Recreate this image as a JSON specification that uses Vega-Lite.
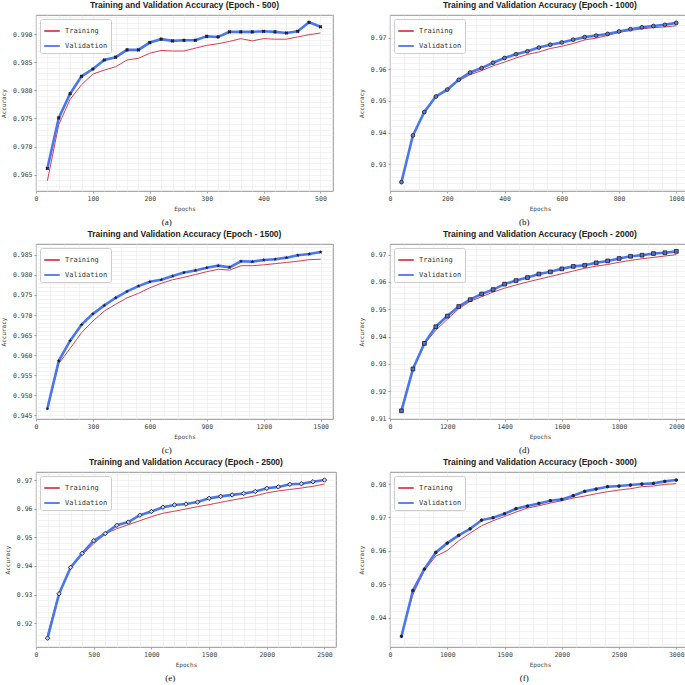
{
  "$schema": "https://vega.github.io/schema/vega-lite/v6.json",
  "padding": 0,
  "background": "white",
  "datasets": {
    "acc": [
      {"panel": "a", "epoch": 20, "Training": 0.9639, "Validation": 0.9661},
      {"panel": "a", "epoch": 40, "Training": 0.9739, "Validation": 0.9751},
      {"panel": "a", "epoch": 60, "Training": 0.9784, "Validation": 0.9794},
      {"panel": "a", "epoch": 80, "Training": 0.9810, "Validation": 0.9825},
      {"panel": "a", "epoch": 100, "Training": 0.9829, "Validation": 0.9838},
      {"panel": "a", "epoch": 120, "Training": 0.9836, "Validation": 0.9854},
      {"panel": "a", "epoch": 140, "Training": 0.9842, "Validation": 0.9859},
      {"panel": "a", "epoch": 160, "Training": 0.9854, "Validation": 0.9872},
      {"panel": "a", "epoch": 180, "Training": 0.9857, "Validation": 0.9872},
      {"panel": "a", "epoch": 200, "Training": 0.9866, "Validation": 0.9885},
      {"panel": "a", "epoch": 220, "Training": 0.9871, "Validation": 0.9891},
      {"panel": "a", "epoch": 240, "Training": 0.9870, "Validation": 0.9888},
      {"panel": "a", "epoch": 260, "Training": 0.9870, "Validation": 0.9889},
      {"panel": "a", "epoch": 280, "Training": 0.9875, "Validation": 0.9889},
      {"panel": "a", "epoch": 300, "Training": 0.9880, "Validation": 0.9896},
      {"panel": "a", "epoch": 320, "Training": 0.9883, "Validation": 0.9895},
      {"panel": "a", "epoch": 340, "Training": 0.9887, "Validation": 0.9904},
      {"panel": "a", "epoch": 360, "Training": 0.9892, "Validation": 0.9904},
      {"panel": "a", "epoch": 380, "Training": 0.9888, "Validation": 0.9904},
      {"panel": "a", "epoch": 400, "Training": 0.9892, "Validation": 0.9905},
      {"panel": "a", "epoch": 420, "Training": 0.9891, "Validation": 0.9904},
      {"panel": "a", "epoch": 440, "Training": 0.9891, "Validation": 0.9902},
      {"panel": "a", "epoch": 460, "Training": 0.9895, "Validation": 0.9905},
      {"panel": "a", "epoch": 480, "Training": 0.9899, "Validation": 0.9921},
      {"panel": "a", "epoch": 500, "Training": 0.9902, "Validation": 0.9913},
      {"panel": "b", "epoch": 40, "Training": 0.9245, "Validation": 0.9243},
      {"panel": "b", "epoch": 80, "Training": 0.9391, "Validation": 0.9391},
      {"panel": "b", "epoch": 120, "Training": 0.9462, "Validation": 0.9465},
      {"panel": "b", "epoch": 160, "Training": 0.9512, "Validation": 0.9514},
      {"panel": "b", "epoch": 200, "Training": 0.9536, "Validation": 0.9536},
      {"panel": "b", "epoch": 240, "Training": 0.9564, "Validation": 0.9567},
      {"panel": "b", "epoch": 280, "Training": 0.9583, "Validation": 0.9590},
      {"panel": "b", "epoch": 320, "Training": 0.9596, "Validation": 0.9604},
      {"panel": "b", "epoch": 360, "Training": 0.9611, "Validation": 0.9621},
      {"panel": "b", "epoch": 400, "Training": 0.9623, "Validation": 0.9636},
      {"panel": "b", "epoch": 440, "Training": 0.9636, "Validation": 0.9648},
      {"panel": "b", "epoch": 480, "Training": 0.9647, "Validation": 0.9657},
      {"panel": "b", "epoch": 520, "Training": 0.9655, "Validation": 0.9669},
      {"panel": "b", "epoch": 560, "Training": 0.9666, "Validation": 0.9678},
      {"panel": "b", "epoch": 600, "Training": 0.9673, "Validation": 0.9685},
      {"panel": "b", "epoch": 640, "Training": 0.9682, "Validation": 0.9694},
      {"panel": "b", "epoch": 680, "Training": 0.9693, "Validation": 0.9702},
      {"panel": "b", "epoch": 720, "Training": 0.9699, "Validation": 0.9707},
      {"panel": "b", "epoch": 760, "Training": 0.9707, "Validation": 0.9712},
      {"panel": "b", "epoch": 800, "Training": 0.9717, "Validation": 0.9720},
      {"panel": "b", "epoch": 840, "Training": 0.9723, "Validation": 0.9727},
      {"panel": "b", "epoch": 880, "Training": 0.9728, "Validation": 0.9733},
      {"panel": "b", "epoch": 920, "Training": 0.9732, "Validation": 0.9737},
      {"panel": "b", "epoch": 960, "Training": 0.9734, "Validation": 0.9741},
      {"panel": "b", "epoch": 1000, "Training": 0.9738, "Validation": 0.9747},
      {"panel": "c", "epoch": 60, "Training": 0.9463, "Validation": 0.9467},
      {"panel": "c", "epoch": 120, "Training": 0.9579, "Validation": 0.9586},
      {"panel": "c", "epoch": 180, "Training": 0.9617, "Validation": 0.9636},
      {"panel": "c", "epoch": 240, "Training": 0.9656, "Validation": 0.9676},
      {"panel": "c", "epoch": 300, "Training": 0.9685, "Validation": 0.9703},
      {"panel": "c", "epoch": 360, "Training": 0.9710, "Validation": 0.9724},
      {"panel": "c", "epoch": 420, "Training": 0.9727, "Validation": 0.9743},
      {"panel": "c", "epoch": 480, "Training": 0.9743, "Validation": 0.9759},
      {"panel": "c", "epoch": 540, "Training": 0.9754, "Validation": 0.9772},
      {"panel": "c", "epoch": 600, "Training": 0.9768, "Validation": 0.9783},
      {"panel": "c", "epoch": 660, "Training": 0.9779, "Validation": 0.9788},
      {"panel": "c", "epoch": 720, "Training": 0.9788, "Validation": 0.9797},
      {"panel": "c", "epoch": 780, "Training": 0.9794, "Validation": 0.9806},
      {"panel": "c", "epoch": 840, "Training": 0.9801, "Validation": 0.9811},
      {"panel": "c", "epoch": 900, "Training": 0.9808, "Validation": 0.9818},
      {"panel": "c", "epoch": 960, "Training": 0.9814, "Validation": 0.9823},
      {"panel": "c", "epoch": 1020, "Training": 0.9812, "Validation": 0.9819},
      {"panel": "c", "epoch": 1080, "Training": 0.9823, "Validation": 0.9834},
      {"panel": "c", "epoch": 1140, "Training": 0.9823, "Validation": 0.9833},
      {"panel": "c", "epoch": 1200, "Training": 0.9825, "Validation": 0.9837},
      {"panel": "c", "epoch": 1260, "Training": 0.9828, "Validation": 0.9839},
      {"panel": "c", "epoch": 1320, "Training": 0.9831, "Validation": 0.9843},
      {"panel": "c", "epoch": 1380, "Training": 0.9834, "Validation": 0.9849},
      {"panel": "c", "epoch": 1440, "Training": 0.9838, "Validation": 0.9852},
      {"panel": "c", "epoch": 1500, "Training": 0.9839, "Validation": 0.9857},
      {"panel": "d", "epoch": 80, "Training": 0.9137, "Validation": 0.9128},
      {"panel": "d", "epoch": 160, "Training": 0.9281, "Validation": 0.9281},
      {"panel": "d", "epoch": 240, "Training": 0.9373, "Validation": 0.9375},
      {"panel": "d", "epoch": 320, "Training": 0.9423, "Validation": 0.9436},
      {"panel": "d", "epoch": 400, "Training": 0.9463, "Validation": 0.9475},
      {"panel": "d", "epoch": 480, "Training": 0.9502, "Validation": 0.9510},
      {"panel": "d", "epoch": 560, "Training": 0.9529, "Validation": 0.9535},
      {"panel": "d", "epoch": 640, "Training": 0.9546, "Validation": 0.9556},
      {"panel": "d", "epoch": 720, "Training": 0.9563, "Validation": 0.9572},
      {"panel": "d", "epoch": 800, "Training": 0.9577, "Validation": 0.9592},
      {"panel": "d", "epoch": 880, "Training": 0.9589, "Validation": 0.9605},
      {"panel": "d", "epoch": 960, "Training": 0.9600, "Validation": 0.9616},
      {"panel": "d", "epoch": 1040, "Training": 0.9610, "Validation": 0.9629},
      {"panel": "d", "epoch": 1120, "Training": 0.9620, "Validation": 0.9637},
      {"panel": "d", "epoch": 1200, "Training": 0.9630, "Validation": 0.9648},
      {"panel": "d", "epoch": 1280, "Training": 0.9640, "Validation": 0.9657},
      {"panel": "d", "epoch": 1360, "Training": 0.9650, "Validation": 0.9661},
      {"panel": "d", "epoch": 1440, "Training": 0.9658, "Validation": 0.9670},
      {"panel": "d", "epoch": 1520, "Training": 0.9664, "Validation": 0.9677},
      {"panel": "d", "epoch": 1600, "Training": 0.9672, "Validation": 0.9686},
      {"panel": "d", "epoch": 1680, "Training": 0.9679, "Validation": 0.9694},
      {"panel": "d", "epoch": 1760, "Training": 0.9685, "Validation": 0.9698},
      {"panel": "d", "epoch": 1840, "Training": 0.9690, "Validation": 0.9704},
      {"panel": "d", "epoch": 1920, "Training": 0.9695, "Validation": 0.9707},
      {"panel": "d", "epoch": 2000, "Training": 0.9700, "Validation": 0.9712},
      {"panel": "e", "epoch": 100, "Training": 0.9160, "Validation": 0.9148},
      {"panel": "e", "epoch": 200, "Training": 0.9306, "Validation": 0.9303},
      {"panel": "e", "epoch": 300, "Training": 0.9391, "Validation": 0.9395},
      {"panel": "e", "epoch": 400, "Training": 0.9440, "Validation": 0.9444},
      {"panel": "e", "epoch": 500, "Training": 0.9477, "Validation": 0.9488},
      {"panel": "e", "epoch": 600, "Training": 0.9512, "Validation": 0.9513},
      {"panel": "e", "epoch": 700, "Training": 0.9530, "Validation": 0.9542},
      {"panel": "e", "epoch": 800, "Training": 0.9544, "Validation": 0.9553},
      {"panel": "e", "epoch": 900, "Training": 0.9558, "Validation": 0.9577},
      {"panel": "e", "epoch": 1000, "Training": 0.9572, "Validation": 0.9590},
      {"panel": "e", "epoch": 1100, "Training": 0.9584, "Validation": 0.9605},
      {"panel": "e", "epoch": 1200, "Training": 0.9591, "Validation": 0.9613},
      {"panel": "e", "epoch": 1300, "Training": 0.9599, "Validation": 0.9616},
      {"panel": "e", "epoch": 1400, "Training": 0.9607, "Validation": 0.9623},
      {"panel": "e", "epoch": 1500, "Training": 0.9614, "Validation": 0.9636},
      {"panel": "e", "epoch": 1600, "Training": 0.9622, "Validation": 0.9643},
      {"panel": "e", "epoch": 1700, "Training": 0.9630, "Validation": 0.9648},
      {"panel": "e", "epoch": 1800, "Training": 0.9637, "Validation": 0.9653},
      {"panel": "e", "epoch": 1900, "Training": 0.9645, "Validation": 0.9660},
      {"panel": "e", "epoch": 2000, "Training": 0.9655, "Validation": 0.9671},
      {"panel": "e", "epoch": 2100, "Training": 0.9662, "Validation": 0.9676},
      {"panel": "e", "epoch": 2200, "Training": 0.9667, "Validation": 0.9685},
      {"panel": "e", "epoch": 2300, "Training": 0.9672, "Validation": 0.9687},
      {"panel": "e", "epoch": 2400, "Training": 0.9678, "Validation": 0.9694},
      {"panel": "e", "epoch": 2500, "Training": 0.9686, "Validation": 0.9700},
      {"panel": "f", "epoch": 120, "Training": 0.9349, "Validation": 0.9344},
      {"panel": "f", "epoch": 240, "Training": 0.9469, "Validation": 0.9481},
      {"panel": "f", "epoch": 360, "Training": 0.9541, "Validation": 0.9545},
      {"panel": "f", "epoch": 480, "Training": 0.9584, "Validation": 0.9595},
      {"panel": "f", "epoch": 600, "Training": 0.9601, "Validation": 0.9623},
      {"panel": "f", "epoch": 720, "Training": 0.9630, "Validation": 0.9646},
      {"panel": "f", "epoch": 840, "Training": 0.9653, "Validation": 0.9666},
      {"panel": "f", "epoch": 960, "Training": 0.9675, "Validation": 0.9692},
      {"panel": "f", "epoch": 1080, "Training": 0.9690, "Validation": 0.9699},
      {"panel": "f", "epoch": 1200, "Training": 0.9703, "Validation": 0.9711},
      {"panel": "f", "epoch": 1320, "Training": 0.9716, "Validation": 0.9726},
      {"panel": "f", "epoch": 1440, "Training": 0.9728, "Validation": 0.9734},
      {"panel": "f", "epoch": 1560, "Training": 0.9735, "Validation": 0.9742},
      {"panel": "f", "epoch": 1680, "Training": 0.9743, "Validation": 0.9750},
      {"panel": "f", "epoch": 1800, "Training": 0.9750, "Validation": 0.9754},
      {"panel": "f", "epoch": 1920, "Training": 0.9758, "Validation": 0.9765},
      {"panel": "f", "epoch": 2040, "Training": 0.9764, "Validation": 0.9778},
      {"panel": "f", "epoch": 2160, "Training": 0.9771, "Validation": 0.9785},
      {"panel": "f", "epoch": 2280, "Training": 0.9777, "Validation": 0.9792},
      {"panel": "f", "epoch": 2400, "Training": 0.9782, "Validation": 0.9794},
      {"panel": "f", "epoch": 2520, "Training": 0.9786, "Validation": 0.9797},
      {"panel": "f", "epoch": 2640, "Training": 0.9792, "Validation": 0.9800},
      {"panel": "f", "epoch": 2760, "Training": 0.9794, "Validation": 0.9802},
      {"panel": "f", "epoch": 2880, "Training": 0.9799, "Validation": 0.9808},
      {"panel": "f", "epoch": 3000, "Training": 0.9801, "Validation": 0.9812}
    ]
  },
  "data": {"name": "acc"},
  "columns": 2,
  "spacing": {"row": 2, "column": 20},
  "resolve": {"scale": {"color": "independent"}},
  "concat": [
    {
      "vconcat": [
        {
          "title": "Training and Validation Accuracy (Epoch - 500)",
          "width": 297,
          "height": 176,
          "transform": [
            {"filter": "datum.panel === 'a'"},
            {"fold": ["Training", "Validation"], "as": ["series", "accuracy"]}
          ],
          "layer": [
            {
              "mark": {"type": "line", "opacity": 0},
              "encoding": {
                "x": {"field": "epoch", "type": "quantitative", "scale": {"domain": [0, 522], "nice": false, "zero": false},
                  "axis": {"orient": "top", "title": null, "values": [0, 20, 40, 60, 80, 100, 120, 140, 160, 180, 200, 220, 240, 260, 280, 300, 320, 340, 360, 380, 400, 420, 440, 460, 480, 500, 520]}},
                "y": {"field": "accuracy", "type": "quantitative", "scale": {"domain": [0.9621, 0.9934], "nice": false, "zero": false},
                  "axis": {"orient": "right", "title": null, "values": [0.963, 0.964, 0.965, 0.966, 0.967, 0.968, 0.969, 0.97, 0.971, 0.972, 0.973, 0.974, 0.975, 0.976, 0.977, 0.978, 0.979, 0.98, 0.981, 0.982, 0.983, 0.984, 0.985, 0.986, 0.987, 0.988, 0.989, 0.99, 0.991, 0.992, 0.993]}}
              }
            },
            {
              "mark": {"type": "line"},
              "encoding": {
                "x": {"field": "epoch", "type": "quantitative", "scale": {"domain": [0, 522], "nice": false, "zero": false},
                  "axis": {"orient": "bottom", "title": "Epochs", "values": [0, 100, 200, 300, 400, 500], "format": "d"}},
                "y": {"field": "accuracy", "type": "quantitative", "scale": {"domain": [0.9621, 0.9934], "nice": false, "zero": false},
                  "axis": {"orient": "left", "title": "Accuracy", "values": [0.965, 0.97, 0.975, 0.98, 0.985, 0.99], "format": ".3f"}},
                "color": {"field": "series", "type": "nominal", "scale": {"domain": ["Training", "Validation"], "range": ["#d6404e", "#4a77ee"]}, "legend": {"title": null}},
                "strokeWidth": {"condition": {"test": "datum.series === 'Validation'", "value": 2.6}, "value": 1}
              }
            },
            {
              "transform": [{"filter": "datum.series === 'Validation'"}],
              "mark": {"type": "point", "shape": "cross", "angle": 45, "filled": true, "fill": "#1c1c30", "size": 14, "opacity": 1},
              "encoding": {
                "x": {"field": "epoch", "type": "quantitative", "scale": {"domain": [0, 522], "nice": false, "zero": false}, "axis": null},
                "y": {"field": "accuracy", "type": "quantitative", "scale": {"domain": [0.9621, 0.9934], "nice": false, "zero": false}, "axis": null}
              }
            }
          ],
          "resolve": {"axis": {"x": "independent", "y": "independent"}}
        }
      ],
      "title": {"text": "(a)", "orient": "bottom", "anchor": "middle", "font": "Liberation Serif", "fontSize": 9, "fontWeight": "normal", "color": "#111111", "offset": 6},
      "resolve": {"scale": {"color": "independent"}}
    },
    {
      "vconcat": [
        {
          "title": "Training and Validation Accuracy (Epoch - 1000)",
          "width": 300,
          "height": 176,
          "transform": [
            {"filter": "datum.panel === 'b'"},
            {"fold": ["Training", "Validation"], "as": ["series", "accuracy"]}
          ],
          "layer": [
            {
              "mark": {"type": "line", "opacity": 0},
              "encoding": {
                "x": {"field": "epoch", "type": "quantitative", "scale": {"domain": [0, 1048], "nice": false, "zero": false},
                  "axis": {"orient": "top", "title": null, "values": [0, 50, 100, 150, 200, 250, 300, 350, 400, 450, 500, 550, 600, 650, 700, 750, 800, 850, 900, 950, 1000]}},
                "y": {"field": "accuracy", "type": "quantitative", "scale": {"domain": [0.9215, 0.9772], "nice": false, "zero": false},
                  "axis": {"orient": "right", "title": null, "values": [0.922, 0.924, 0.926, 0.928, 0.93, 0.932, 0.934, 0.936, 0.938, 0.94, 0.942, 0.944, 0.946, 0.948, 0.95, 0.952, 0.954, 0.956, 0.958, 0.96, 0.962, 0.964, 0.966, 0.968, 0.97, 0.972, 0.974, 0.976]}}
              }
            },
            {
              "mark": {"type": "line"},
              "encoding": {
                "x": {"field": "epoch", "type": "quantitative", "scale": {"domain": [0, 1048], "nice": false, "zero": false},
                  "axis": {"orient": "bottom", "title": "Epochs", "values": [0, 200, 400, 600, 800, 1000], "format": "d"}},
                "y": {"field": "accuracy", "type": "quantitative", "scale": {"domain": [0.9215, 0.9772], "nice": false, "zero": false},
                  "axis": {"orient": "left", "title": "Accuracy", "values": [0.93, 0.94, 0.95, 0.96, 0.97], "format": ".2f"}},
                "color": {"field": "series", "type": "nominal", "scale": {"domain": ["Training", "Validation"], "range": ["#d6404e", "#4a77ee"]}, "legend": {"title": null}},
                "strokeWidth": {"condition": {"test": "datum.series === 'Validation'", "value": 2.6}, "value": 1}
              }
            },
            {
              "transform": [{"filter": "datum.series === 'Validation'"}],
              "mark": {"type": "point", "shape": "circle", "filled": true, "fill": "#6a7fb8", "stroke": "#1c1c30", "strokeWidth": 0.8, "size": 14, "opacity": 1},
              "encoding": {
                "x": {"field": "epoch", "type": "quantitative", "scale": {"domain": [0, 1048], "nice": false, "zero": false}, "axis": null},
                "y": {"field": "accuracy", "type": "quantitative", "scale": {"domain": [0.9215, 0.9772], "nice": false, "zero": false}, "axis": null}
              }
            }
          ],
          "resolve": {"axis": {"x": "independent", "y": "independent"}}
        }
      ],
      "title": {"text": "(b)", "orient": "bottom", "anchor": "middle", "font": "Liberation Serif", "fontSize": 9, "fontWeight": "normal", "color": "#111111", "offset": 6},
      "resolve": {"scale": {"color": "independent"}}
    },
    {
      "vconcat": [
        {
          "title": "Training and Validation Accuracy (Epoch - 1500)",
          "width": 297,
          "height": 175,
          "transform": [
            {"filter": "datum.panel === 'c'"},
            {"fold": ["Training", "Validation"], "as": ["series", "accuracy"]}
          ],
          "layer": [
            {
              "mark": {"type": "line", "opacity": 0},
              "encoding": {
                "x": {"field": "epoch", "type": "quantitative", "scale": {"domain": [0, 1565], "nice": false, "zero": false},
                  "axis": {"orient": "top", "title": null, "values": [0, 75, 150, 225, 300, 375, 450, 525, 600, 675, 750, 825, 900, 975, 1050, 1125, 1200, 1275, 1350, 1425, 1500]}},
                "y": {"field": "accuracy", "type": "quantitative", "scale": {"domain": [0.9441, 0.9877], "nice": false, "zero": false},
                  "axis": {"orient": "right", "title": null, "values": [0.945, 0.946, 0.947, 0.948, 0.949, 0.95, 0.951, 0.952, 0.953, 0.954, 0.955, 0.956, 0.957, 0.958, 0.959, 0.96, 0.961, 0.962, 0.963, 0.964, 0.965, 0.966, 0.967, 0.968, 0.969, 0.97, 0.971, 0.972, 0.973, 0.974, 0.975, 0.976, 0.977, 0.978, 0.979, 0.98, 0.981, 0.982, 0.983, 0.984, 0.985, 0.986, 0.987]}}
              }
            },
            {
              "mark": {"type": "line"},
              "encoding": {
                "x": {"field": "epoch", "type": "quantitative", "scale": {"domain": [0, 1565], "nice": false, "zero": false},
                  "axis": {"orient": "bottom", "title": "Epochs", "values": [0, 300, 600, 900, 1200, 1500], "format": "d"}},
                "y": {"field": "accuracy", "type": "quantitative", "scale": {"domain": [0.9441, 0.9877], "nice": false, "zero": false},
                  "axis": {"orient": "left", "title": "Accuracy", "values": [0.945, 0.95, 0.955, 0.96, 0.965, 0.97, 0.975, 0.98, 0.985], "format": ".3f"}},
                "color": {"field": "series", "type": "nominal", "scale": {"domain": ["Training", "Validation"], "range": ["#d6404e", "#4a77ee"]}, "legend": {"title": null}},
                "strokeWidth": {"condition": {"test": "datum.series === 'Validation'", "value": 2.6}, "value": 1}
              }
            },
            {
              "transform": [{"filter": "datum.series === 'Validation'"}],
              "mark": {"type": "point", "shape": "M0,-1L0.235,-0.324L0.951,-0.309L0.38,0.124L0.588,0.809L0,0.4L-0.588,0.809L-0.38,0.124L-0.951,-0.309L-0.235,-0.324Z", "filled": true, "fill": "#1c1c30", "size": 18, "opacity": 1},
              "encoding": {
                "x": {"field": "epoch", "type": "quantitative", "scale": {"domain": [0, 1565], "nice": false, "zero": false}, "axis": null},
                "y": {"field": "accuracy", "type": "quantitative", "scale": {"domain": [0.9441, 0.9877], "nice": false, "zero": false}, "axis": null}
              }
            }
          ],
          "resolve": {"axis": {"x": "independent", "y": "independent"}}
        }
      ],
      "title": {"text": "(c)", "orient": "bottom", "anchor": "middle", "font": "Liberation Serif", "fontSize": 9, "fontWeight": "normal", "color": "#111111", "offset": 6},
      "resolve": {"scale": {"color": "independent"}}
    },
    {
      "vconcat": [
        {
          "title": "Training and Validation Accuracy (Epoch - 2000)",
          "width": 300,
          "height": 175,
          "transform": [
            {"filter": "datum.panel === 'd'"},
            {"fold": ["Training", "Validation"], "as": ["series", "accuracy"]}
          ],
          "layer": [
            {
              "mark": {"type": "line", "opacity": 0},
              "encoding": {
                "x": {"field": "epoch", "type": "quantitative", "scale": {"domain": [0, 2095], "nice": false, "zero": false},
                  "axis": {"orient": "top", "title": null, "values": [0, 100, 200, 300, 400, 500, 600, 700, 800, 900, 1000, 1100, 1200, 1300, 1400, 1500, 1600, 1700, 1800, 1900, 2000]}},
                "y": {"field": "accuracy", "type": "quantitative", "scale": {"domain": [0.9098, 0.9739], "nice": false, "zero": false},
                  "axis": {"orient": "right", "title": null, "values": [0.91, 0.912, 0.914, 0.916, 0.918, 0.92, 0.922, 0.924, 0.926, 0.928, 0.93, 0.932, 0.934, 0.936, 0.938, 0.94, 0.942, 0.944, 0.946, 0.948, 0.95, 0.952, 0.954, 0.956, 0.958, 0.96, 0.962, 0.964, 0.966, 0.968, 0.97, 0.972]}}
              }
            },
            {
              "mark": {"type": "line"},
              "encoding": {
                "x": {"field": "epoch", "type": "quantitative", "scale": {"domain": [0, 2095], "nice": false, "zero": false},
                  "axis": {"orient": "bottom", "title": "Epochs", "values": [0, 400, 800, 1200, 1600, 2000], "format": "d",
                    "labelExpr": "datum.value == 400 ? '1200' : datum.value == 800 ? '1400' : datum.value == 1200 ? '1600' : datum.value == 1600 ? '1800' : datum.label"}},
                "y": {"field": "accuracy", "type": "quantitative", "scale": {"domain": [0.9098, 0.9739], "nice": false, "zero": false},
                  "axis": {"orient": "left", "title": "Accuracy", "values": [0.91, 0.92, 0.93, 0.94, 0.95, 0.96, 0.97], "format": ".2f"}},
                "color": {"field": "series", "type": "nominal", "scale": {"domain": ["Training", "Validation"], "range": ["#d6404e", "#4a77ee"]}, "legend": {"title": null}},
                "strokeWidth": {"condition": {"test": "datum.series === 'Validation'", "value": 2.6}, "value": 1}
              }
            },
            {
              "transform": [{"filter": "datum.series === 'Validation'"}],
              "mark": {"type": "point", "shape": "square", "filled": true, "fill": "#5a6fc0", "stroke": "#1c1c30", "strokeWidth": 0.8, "size": 14, "opacity": 1},
              "encoding": {
                "x": {"field": "epoch", "type": "quantitative", "scale": {"domain": [0, 2095], "nice": false, "zero": false}, "axis": null},
                "y": {"field": "accuracy", "type": "quantitative", "scale": {"domain": [0.9098, 0.9739], "nice": false, "zero": false}, "axis": null}
              }
            }
          ],
          "resolve": {"axis": {"x": "independent", "y": "independent"}}
        }
      ],
      "title": {"text": "(d)", "orient": "bottom", "anchor": "middle", "font": "Liberation Serif", "fontSize": 9, "fontWeight": "normal", "color": "#111111", "offset": 6},
      "resolve": {"scale": {"color": "independent"}}
    },
    {
      "vconcat": [
        {
          "title": "Training and Validation Accuracy (Epoch - 2500)",
          "width": 300,
          "height": 175,
          "transform": [
            {"filter": "datum.panel === 'e'"},
            {"fold": ["Training", "Validation"], "as": ["series", "accuracy"]}
          ],
          "layer": [
            {
              "mark": {"type": "line", "opacity": 0},
              "encoding": {
                "x": {"field": "epoch", "type": "quantitative", "scale": {"domain": [0, 2600], "nice": false, "zero": false},
                  "axis": {"orient": "top", "title": null, "values": [0, 100, 200, 300, 400, 500, 600, 700, 800, 900, 1000, 1100, 1200, 1300, 1400, 1500, 1600, 1700, 1800, 1900, 2000, 2100, 2200, 2300, 2400, 2500]}},
                "y": {"field": "accuracy", "type": "quantitative", "scale": {"domain": [0.9117, 0.9728], "nice": false, "zero": false},
                  "axis": {"orient": "right", "title": null, "values": [0.912, 0.914, 0.916, 0.918, 0.92, 0.922, 0.924, 0.926, 0.928, 0.93, 0.932, 0.934, 0.936, 0.938, 0.94, 0.942, 0.944, 0.946, 0.948, 0.95, 0.952, 0.954, 0.956, 0.958, 0.96, 0.962, 0.964, 0.966, 0.968, 0.97, 0.972]}}
              }
            },
            {
              "mark": {"type": "line"},
              "encoding": {
                "x": {"field": "epoch", "type": "quantitative", "scale": {"domain": [0, 2600], "nice": false, "zero": false},
                  "axis": {"orient": "bottom", "title": "Epochs", "values": [0, 500, 1000, 1500, 2000, 2500], "format": "d"}},
                "y": {"field": "accuracy", "type": "quantitative", "scale": {"domain": [0.9117, 0.9728], "nice": false, "zero": false},
                  "axis": {"orient": "left", "title": "Accuracy", "values": [0.92, 0.93, 0.94, 0.95, 0.96, 0.97], "format": ".2f"}},
                "color": {"field": "series", "type": "nominal", "scale": {"domain": ["Training", "Validation"], "range": ["#d6404e", "#4a77ee"]}, "legend": {"title": null}},
                "strokeWidth": {"condition": {"test": "datum.series === 'Validation'", "value": 2.6}, "value": 1}
              }
            },
            {
              "transform": [{"filter": "datum.series === 'Validation'"}],
              "mark": {"type": "point", "shape": "diamond", "filled": true, "fill": "#c9d2f0", "stroke": "#1c1c30", "strokeWidth": 0.9, "size": 20, "opacity": 1},
              "encoding": {
                "x": {"field": "epoch", "type": "quantitative", "scale": {"domain": [0, 2600], "nice": false, "zero": false}, "axis": null},
                "y": {"field": "accuracy", "type": "quantitative", "scale": {"domain": [0.9117, 0.9728], "nice": false, "zero": false}, "axis": null}
              }
            }
          ],
          "resolve": {"axis": {"x": "independent", "y": "independent"}}
        }
      ],
      "title": {"text": "(e)", "orient": "bottom", "anchor": "middle", "font": "Liberation Serif", "fontSize": 9, "fontWeight": "normal", "color": "#111111", "offset": 6},
      "resolve": {"scale": {"color": "independent"}}
    },
    {
      "vconcat": [
        {
          "title": "Training and Validation Accuracy (Epoch - 3000)",
          "width": 300,
          "height": 175,
          "transform": [
            {"filter": "datum.panel === 'f'"},
            {"fold": ["Training", "Validation"], "as": ["series", "accuracy"]}
          ],
          "layer": [
            {
              "mark": {"type": "line", "opacity": 0},
              "encoding": {
                "x": {"field": "epoch", "type": "quantitative", "scale": {"domain": [0, 3144], "nice": false, "zero": false},
                  "axis": {"orient": "top", "title": null, "values": [0, 150, 300, 450, 600, 750, 900, 1050, 1200, 1350, 1500, 1650, 1800, 1950, 2100, 2250, 2400, 2550, 2700, 2850, 3000]}},
                "y": {"field": "accuracy", "type": "quantitative", "scale": {"domain": [0.9312, 0.9836], "nice": false, "zero": false},
                  "axis": {"orient": "right", "title": null, "values": [0.932, 0.934, 0.936, 0.938, 0.94, 0.942, 0.944, 0.946, 0.948, 0.95, 0.952, 0.954, 0.956, 0.958, 0.96, 0.962, 0.964, 0.966, 0.968, 0.97, 0.972, 0.974, 0.976, 0.978, 0.98, 0.982]}}
              }
            },
            {
              "mark": {"type": "line"},
              "encoding": {
                "x": {"field": "epoch", "type": "quantitative", "scale": {"domain": [0, 3144], "nice": false, "zero": false},
                  "axis": {"orient": "bottom", "title": "Epochs", "values": [0, 600, 1200, 1800, 2400, 3000], "format": "d",
                    "labelExpr": "datum.value == 600 ? '1000' : datum.value == 1200 ? '1500' : datum.value == 1800 ? '2000' : datum.value == 2400 ? '2500' : datum.label"}},
                "y": {"field": "accuracy", "type": "quantitative", "scale": {"domain": [0.9312, 0.9836], "nice": false, "zero": false},
                  "axis": {"orient": "left", "title": "Accuracy", "values": [0.94, 0.95, 0.96, 0.97, 0.98], "format": ".2f"}},
                "color": {"field": "series", "type": "nominal", "scale": {"domain": ["Training", "Validation"], "range": ["#d6404e", "#4a77ee"]}, "legend": {"title": null}},
                "strokeWidth": {"condition": {"test": "datum.series === 'Validation'", "value": 2.6}, "value": 1}
              }
            },
            {
              "transform": [{"filter": "datum.series === 'Validation'"}],
              "mark": {"type": "point", "shape": "M0,-1L0.866,-0.5L0.866,0.5L0,1L-0.866,0.5L-0.866,-0.5Z", "filled": true, "fill": "#1f2540", "size": 14, "opacity": 1},
              "encoding": {
                "x": {"field": "epoch", "type": "quantitative", "scale": {"domain": [0, 3144], "nice": false, "zero": false}, "axis": null},
                "y": {"field": "accuracy", "type": "quantitative", "scale": {"domain": [0.9312, 0.9836], "nice": false, "zero": false}, "axis": null}
              }
            }
          ],
          "resolve": {"axis": {"x": "independent", "y": "independent"}}
        }
      ],
      "title": {"text": "(f)", "orient": "bottom", "anchor": "middle", "font": "Liberation Serif", "fontSize": 9, "fontWeight": "normal", "color": "#111111", "offset": 6},
      "resolve": {"scale": {"color": "independent"}}
    }
  ],
  "config": {
    "view": {"stroke": "#777777", "strokeWidth": 0.8},
    "axis": {
      "labelFont": "DejaVu Sans Mono", "labelFontSize": 6.5, "labelColor": "#444444", "labelPadding": 2, "labelFlush": false,
      "titleFont": "DejaVu Sans Mono", "titleFontSize": 6, "titleFontWeight": "normal", "titleColor": "#444444", "titlePadding": 4,
      "tickSize": 2, "tickColor": "#666666", "tickWidth": 0.6, "domain": false,
      "grid": true, "gridColor": "#aaaaaa", "gridDash": [2, 2], "gridWidth": 0.6
    },
    "axisY": {"titlePadding": 6},
    "axisTop": {"labels": false, "ticks": false, "gridDash": [], "gridColor": "#ebebeb", "gridWidth": 0.6},
    "axisRight": {"labels": false, "ticks": false, "gridDash": [], "gridColor": "#ebebeb", "gridWidth": 0.6},
    "legend": {
      "orient": "top-left", "offset": 4, "padding": 3, "fillColor": "#ffffff", "strokeColor": "#cccccc", "cornerRadius": 2,
      "labelFont": "DejaVu Sans Mono", "labelFontSize": 7, "labelColor": "#333333", "labelOffset": 4,
      "symbolType": "stroke", "symbolSize": 240, "symbolStrokeWidth": 1.8, "rowPadding": 2
    },
    "title": {"font": "Liberation Sans", "fontSize": 8.5, "fontWeight": "bold", "color": "#222222", "offset": 6}
  }
}
